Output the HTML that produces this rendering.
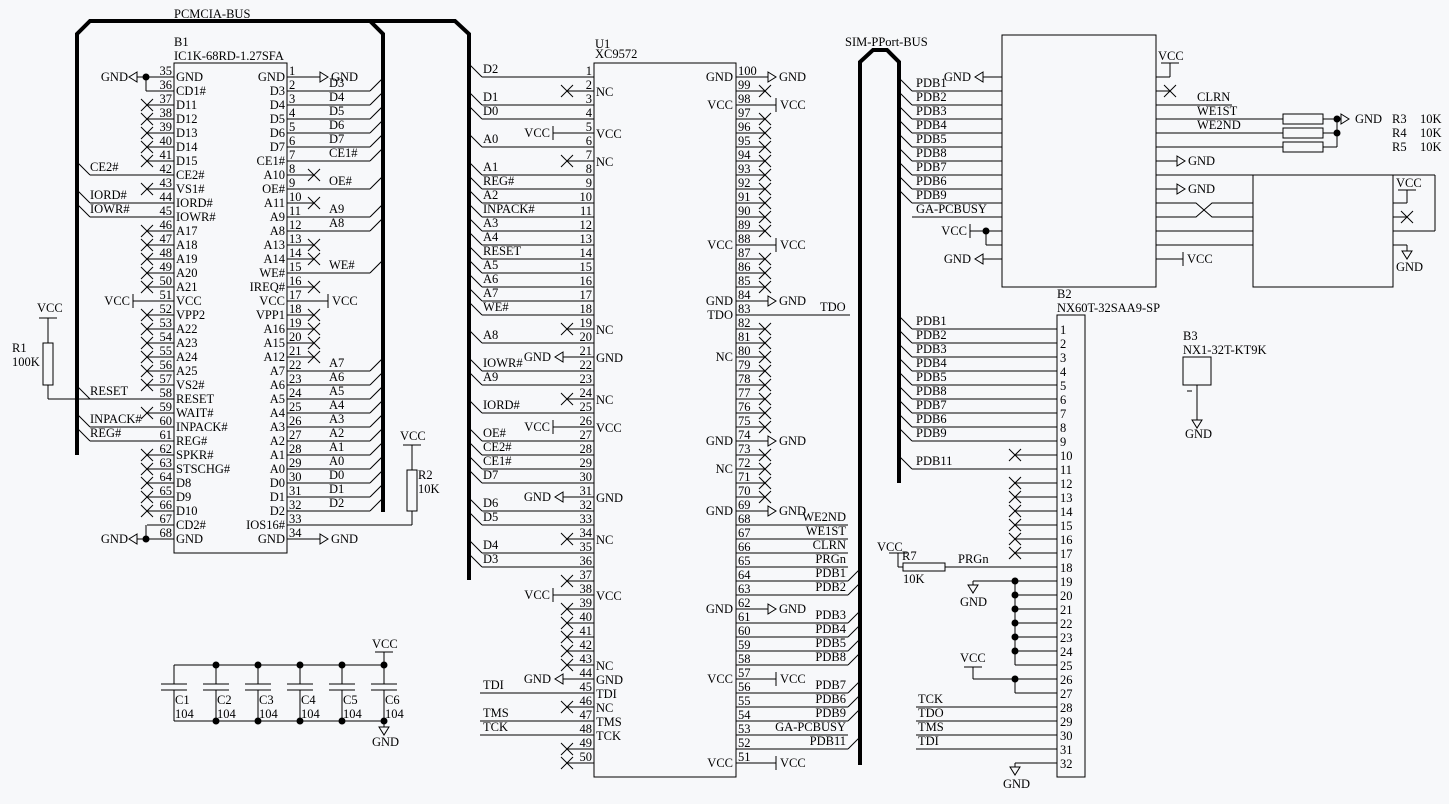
<!DOCTYPE html>
<html><head><meta charset="utf-8">
<style>
html,body{margin:0;padding:0;background:#f7f8fa;}
svg{display:block;}
text{font-family:"Liberation Serif",serif;font-size:12.5px;fill:#000;}
</style></head>
<body>
<svg id="s" width="1449" height="804" viewBox="0 0 1449 804" xmlns="http://www.w3.org/2000/svg">
<g id="g" stroke="#000" stroke-width="1" fill="none"></g>
<g id="t"></g>
</svg>
<script>
var G=document.getElementById('g'),T=document.getElementById('t'),NS='http://www.w3.org/2000/svg';
function L(x1,y1,x2,y2,w){var e=document.createElementNS(NS,'line');e.setAttribute('x1',x1);e.setAttribute('y1',y1);e.setAttribute('x2',x2);e.setAttribute('y2',y2);if(w)e.setAttribute('stroke-width',w);G.appendChild(e);}
function P(d,w){var e=document.createElementNS(NS,'path');e.setAttribute('d',d);if(w)e.setAttribute('stroke-width',w);G.appendChild(e);}
function R(x,y,w,h){var e=document.createElementNS(NS,'rect');e.setAttribute('x',x);e.setAttribute('y',y);e.setAttribute('width',w);e.setAttribute('height',h);G.appendChild(e);}
function X(s,x,y,a){var e=document.createElementNS(NS,'text');e.setAttribute('x',x);e.setAttribute('y',y);if(a)e.setAttribute('text-anchor',a);e.textContent=s;T.appendChild(e);}
function D(x,y){var e=document.createElementNS(NS,'circle');e.setAttribute('cx',x);e.setAttribute('cy',y);e.setAttribute('r',3);e.setAttribute('fill','#000');G.appendChild(e);}
function NC(x,y){L(x-6,y-6,x+6,y+6);L(x-6,y+6,x+6,y-6);}
function GR(x,y){P('M'+x+' '+(y-5)+'L'+(x+8)+' '+y+'L'+x+' '+(y+5)+'Z');}
function GLf(x,y){P('M'+x+' '+(y-5)+'L'+(x-8)+' '+y+'L'+x+' '+(y+5)+'Z');}
function GD(x,y){P('M'+(x-5)+' '+y+'L'+x+' '+(y+8)+'L'+(x+5)+' '+y+'Z');}
function TK(x,y){L(x,y-7,x,y+7);}
function TKH(x,y){L(x-9,y,x+9,y);}

P('M77 455L77 34L90 21L370 21L383 34L383 512',4);
P('M370 21L455 21L469 34L469 580',4);
P('M860 765L860 62L873 50L887 50L899 62L899 483',4);
X('PCMCIA-BUS',174,18);X('SIM-PPort-BUS',845,46);

R(174,63,113,490);X('B1',174,46);X('IC1K-68RD-1.27SFA',174,60);
var bl=['GND','CD1#','D11','D12','D13','D14','D15','CE2#','VS1#','IORD#','IOWR#','A17','A18','A19','A20','A21','VCC','VPP2','A22','A23','A24','A25','VS2#','RESET','WAIT#','INPACK#','REG#','SPKR#','STSCHG#','D8','D9','D10','CD2#','GND'];
var br=['GND','D3','D4','D5','D6','D7','CE1#','A10','OE#','A11','A9','A8','A13','A14','WE#','IREQ#','VCC','VPP1','A16','A15','A12','A7','A6','A5','A4','A3','A2','A1','A0','D0','D1','D2','IOS16#','GND'];
for(var i=0;i<34;i++){var y=77+14*i;
 L(147,y,174,y);X(String(35+i),172,y-2,'end');X(bl[i],176,y+4);
 L(287,y,314,y);X(String(1+i),289,y-2);X(br[i],285,y+4,'end');}
[37,38,39,40,41,43,46,47,48,49,50,52,53,54,55,56,57,59,62,63,64,65,66].forEach(function(p){NC(147,77+14*(p-35));});
var busL={42:'CE2#',44:'IORD#',45:'IOWR#',58:'RESET',60:'INPACK#',61:'REG#'};
for(var p in busL){var y=77+14*(p-35);L(90,y,147,y);L(77,y-13,90,y);X(busL[p],90,y-4);}
L(137,77,147,77);D(146,77);GLf(137,77);X('GND',128,81,'end');L(146,77,146,91);L(146,91,147,91);
L(137,539,147,539);D(146,539);GLf(137,539);X('GND',128,543,'end');L(146,525,146,539);
L(133,301,147,301);TK(133,301);X('VCC',130,305,'end');
X('VCC',37,312);TKH(48,318);L(48,318,48,343);R(43,343,10,42);L(48,385,48,399);L(48,399,90,399);X('R1',12,352);X('100K',12,366);
var bn={2:'D3',3:'D4',4:'D5',5:'D6',6:'D7',7:'CE1#',9:'OE#',11:'A9',12:'A8',15:'WE#',22:'A7',23:'A6',24:'A5',25:'A4',26:'A3',27:'A2',28:'A1',29:'A0',30:'D0',31:'D1',32:'D2'};
for(var p in bn){var y=77+14*(p-1);L(314,y,370,y);L(370,y,383,y-13);X(bn[p],329,y-4);}
[8,10,13,14,16,18,19,20,21].forEach(function(p){NC(314,77+14*(p-1));});
L(314,77,320,77);GR(320,77);X('GND',331,81);
L(314,301,328,301);TK(328,301);X('VCC',332,305);
L(314,539,320,539);GR(320,539);X('GND',331,543);
L(314,525,412,525);L(412,525,412,511);R(407,470,10,41);L(412,445,412,470);TKH(412,445);X('VCC',400,440);X('R2',418,479);X('10K',418,493);

R(594,63,142,714);X('U1',595,48);X('XC9572',595,58);
var un={1:'D2',3:'D1',4:'D0',6:'A0',8:'A1',9:'REG#',10:'A2',11:'INPACK#',12:'A3',13:'A4',14:'RESET',15:'A5',16:'A6',17:'A7',18:'WE#',20:'A8',22:'IOWR#',23:'A9',25:'IORD#',27:'OE#',28:'CE2#',29:'CE1#',30:'D7',32:'D6',33:'D5',35:'D4',36:'D3'};
for(var n=1;n<=50;n++){var y=77+14*(n-1);X(String(n),592,y-2,'end');X(String(101-n),738,y-2);
 if(un[n]){L(482,y,594,y);L(469,y-13,482,y);X(un[n],483,y-4);}}
function ul(n){return 77+14*(n-1);}
[2,7,19,24,34,37,39,40,41,42,43,46,49,50].forEach(function(n){L(567,ul(n),594,ul(n));NC(567,ul(n));});
[5,26,38].forEach(function(n){L(553,ul(n),594,ul(n));TK(553,ul(n));X('VCC',550,ul(n)+4,'end');});
[21,31,44].forEach(function(n){L(563,ul(n),594,ul(n));GLf(563,ul(n));X('GND',551,ul(n)+4,'end');});
[[45,'TDI'],[47,'TMS'],[48,'TCK']].forEach(function(a){L(480,ul(a[0]),594,ul(a[0]));X(a[1],483,ul(a[0])-4);});
var uin={2:'NC',5:'VCC',7:'NC',19:'NC',21:'GND',24:'NC',26:'VCC',31:'GND',34:'NC',38:'VCC',43:'NC',44:'GND',45:'TDI',46:'NC',47:'TMS',48:'TCK'};
for(var n in uin)X(uin[n],596,ul(n)+5);
function ur(p){return 77+14*(100-p);}
var uri={100:'GND',98:'VCC',88:'VCC',84:'GND',83:'TDO',80:'NC',74:'GND',72:'NC',69:'GND',62:'GND',57:'VCC',51:'VCC'};
for(var p in uri)X(uri[p],733,ur(p)+4,'end');
[100,84,74,69,62].forEach(function(p){L(736,ur(p),768,ur(p));GR(768,ur(p));X('GND',779,ur(p)+4);});
[98,88,57,51].forEach(function(p){L(736,ur(p),776,ur(p));TK(776,ur(p));X('VCC',780,ur(p)+4);});
[99,97,96,95,94,93,92,91,90,89,87,86,85,82,81,80,79,78,77,76,75,73,72,71,70].forEach(function(p){L(736,ur(p),765,ur(p));NC(765,ur(p));});
L(736,ur(83),850,ur(83));X('TDO',820,ur(83)-4);
var urn={68:'WE2ND',67:'WE1ST',66:'CLRN',65:'PRGn',53:'GA-PCBUSY'};
for(var p in urn){L(736,ur(p),848,ur(p));X(urn[p],846,ur(p)-4,'end');}
var urb={64:'PDB1',63:'PDB2',61:'PDB3',60:'PDB4',59:'PDB5',58:'PDB8',56:'PDB7',55:'PDB6',54:'PDB9',52:'PDB11'};
for(var p in urb){L(736,ur(p),848,ur(p));L(848,ur(p),860,ur(p)-12);X(urb[p],846,ur(p)-4,'end');}

R(1002,35,154,252);
L(983,77,1002,77);GLf(983,77);X('GND',971,81,'end');
var pl=['PDB1','PDB2','PDB3','PDB4','PDB5','PDB8','PDB7','PDB6','PDB9'];
for(var i=0;i<9;i++){var y=91+14*i;L(899,y-13,912,y);L(912,y,1002,y);X(pl[i],916,y-4);}
L(912,217,1002,217);X('GA-PCBUSY',916,213);
L(970,231,1002,231);TK(970,231);D(986,231);L(986,231,986,245);L(986,245,1002,245);X('VCC',967,235,'end');
L(983,259,1002,259);GLf(983,259);X('GND',971,263,'end');
X('VCC',1158,60);TKH(1170,63);L(1170,63,1170,77);L(1156,77,1170,77);
L(1156,91,1170,91);NC(1170,91);
L(1156,105,1232,105);X('CLRN',1197,101);
L(1156,119,1283,119);X('WE1ST',1197,115);
L(1156,133,1283,133);X('WE2ND',1197,129);
L(1156,147,1283,147);
R(1283,114,40,10);R(1283,128,40,10);R(1283,142,40,10);
L(1323,119,1341,119);L(1323,133,1337,133);L(1323,147,1337,147);L(1337,119,1337,147);D(1337,119);D(1337,133);
GR(1341,119);X('GND',1355,123);
X('R3',1392,123);X('10K',1420,123);X('R4',1392,137);X('10K',1420,137);X('R5',1392,151);X('10K',1420,151);
L(1156,161,1177,161);GR(1177,161);X('GND',1188,165);
L(1156,189,1177,189);GR(1177,189);X('GND',1188,193);
L(1156,175,1435,175);
P('M1156 203L1196 203L1212 217L1253 217');P('M1156 217L1196 217L1212 203L1253 203');
L(1156,231,1253,231);L(1156,245,1253,245);
L(1156,259,1183,259);TK(1183,259);X('VCC',1187,263);
R(1253,175,140,112);L(1435,175,1435,231);L(1393,231,1435,231);
X('VCC',1396,187);TKH(1407,190);L(1407,190,1407,203);L(1393,203,1407,203);
L(1393,217,1407,217);NC(1407,217);
L(1393,245,1407,245);L(1407,245,1407,251);GD(1407,251);X('GND',1396,271);

R(1057,315,28,462);X('B2',1057,298);X('NX60T-32SAA9-SP',1057,312);
function bp(n){return 329+14*(n-1);}
for(var n=1;n<=32;n++)X(String(n),1060,bp(n)+5);
for(var i=0;i<9;i++){var y=bp(i+1);L(899,y-13,912,y);L(912,y,1057,y);X(pl[i],916,y-4);}
L(899,bp(11)-13,912,bp(11));L(912,bp(11),1057,bp(11));X('PDB11',916,bp(11)-4);
[10,12,13,14,15,16,17].forEach(function(n){L(1015,bp(n),1057,bp(n));NC(1015,bp(n));});
L(945,bp(18),1057,bp(18));X('PRGn',958,bp(18)-4);
R(903,563,42,8);L(898,553,898,567);L(898,567,903,567);TKH(898,553);X('VCC',877,551);X('R7',902,560);X('10K',903,583);
for(var n=19;n<=25;n++){L(1015,bp(n),1057,bp(n));if(n<25)D(1015,bp(n));}
L(1015,bp(19),1015,bp(25));
L(973,bp(19),1015,bp(19));L(973,bp(19),973,bp(19)+4);GD(973,bp(19)+4);X('GND',960,606);
X('VCC',960,662);TKH(973,667);L(973,667,973,bp(26));L(973,bp(26),1057,bp(26));D(1015,bp(26));L(1015,bp(26),1015,bp(27));L(1015,bp(27),1057,bp(27));
[[28,'TCK'],[29,'TDO'],[30,'TMS'],[31,'TDI']].forEach(function(a){L(916,bp(a[0]),1057,bp(a[0]));X(a[1],918,bp(a[0])-4);});
L(1015,bp(32),1057,bp(32));L(1015,bp(32),1015,767);GD(1015,767);X('GND',1003,788);

X('B3',1183,340);X('NX1-32T-KT9K',1183,354);R(1183,357,28,28);L(1197,385,1197,420);GD(1197,420);X('GND',1185,438);L(1187,391,1192,391);

L(174,665,384,665);L(174,721,384,721);
[174,216,258,300,342,384].forEach(function(x,i){L(x,665,x,684);L(x-13,684,x+13,684);L(x-13,690,x+13,690);L(x,690,x,721);X('C'+(i+1),x+1,704);X('104',x+1,718);if(i>0){D(x,665);D(x,721);}});
L(384,652,384,665);TKH(384,652);X('VCC',372,648);L(384,721,384,727);GD(384,727);X('GND',372,746);
</script>
</body></html>
